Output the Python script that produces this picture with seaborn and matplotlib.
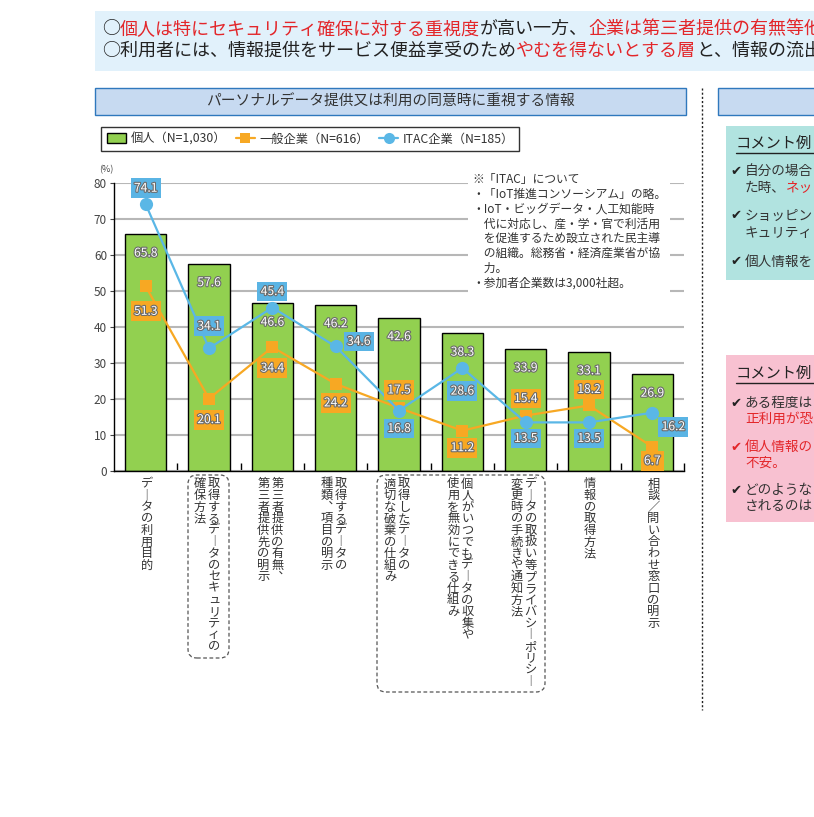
import numpy as np
import pandas as pd
import matplotlib
matplotlib.use("Agg")
import matplotlib.pyplot as plt
import matplotlib.transforms as mtransforms
import matplotlib.patheffects as pe
from matplotlib.patches import Rectangle, FancyBboxPatch
from matplotlib.lines import Line2D
import seaborn as sns

# ---------------- data ----------------
categories = [
    "データの利用目的",
    "取得するデータのセキュリティの\n確保方法",
    "第三者提供の有無、\n第三者提供先の明示",
    "取得するデータの\n種類、項目の明示",
    "取得したデータの\n適切な破棄の仕組み",
    "個人がいつでもデータの収集や\n使用を無効にできる仕組み",
    "データの取扱い等プライバシーポリシー\n変更時の手続きや通知方法",
    "情報の取得方法",
    "相談／問い合わせ窓口の明示",
]
individual = [65.8, 57.6, 46.6, 46.2, 42.6, 38.3, 33.9, 33.1, 26.9]
general = [51.3, 20.1, 34.4, 24.2, 17.5, 11.2, 15.4, 18.2, 6.7]
itac = [74.1, 34.1, 45.4, 34.6, 16.8, 28.6, 13.5, 13.5, 16.2]
yticks = [0, 10, 20, 30, 40, 50, 60, 70, 80]
legend_labels = ["個人（N=1,030）", "一般企業（N=616）", "ITAC企業（N=185）"]
chart_title = "パーソナルデータ提供又は利用の同意時に重視する情報"
note_lines = [
    "※「ITAC」について",
    "・「IoT推進コンソーシアム」の略。",
    "・IoT・ビッグデータ・人工知能時",
    "　代に対応し、産・学・官で利活用",
    "　を促進するため設立された民主導",
    "　の組織。総務省・経済産業省が協",
    "　力。",
    "・参加者企業数は3,000社超。",
]
banner_line1 = [("○", "k"), ("個人は特にセキュリティ確保に対する重視度", "r"),
                ("が高い一方、", "k"), ("企業は第三者提供の有無等他", "r")]
banner_line2 = [("○利用者には、情報提供をサービス便益享受のため", "k"),
                ("やむを得ないとする層", "r"), ("と、情報の流出", "k")]

# ---------------- style ----------------
sns.set_theme(style="white")
JP = ["Noto Sans CJK JP", "DejaVu Sans"]
NUM = ["Liberation Sans Narrow", "Noto Sans CJK JP", "DejaVu Sans"]
plt.rcParams["font.family"] = JP

GREEN = "#92d050"
ORANGE = "#f7a823"
BLUE = "#5ab7e6"
RED = "#e3262a"
DARK = "#333333"

W, H = 814, 817
fig = plt.figure(figsize=(W / 100, H / 100), dpi=100)
fig.patch.set_facecolor("white")


def fx(px):
    return px / W


def fy(py):
    return 1 - py / H


def frect(x0, y0, x1, y1, **kw):
    r = Rectangle((fx(x0), fy(y1)), fx(x1) - fx(x0), fy(y0) - fy(y1),
                  transform=fig.transFigure, **kw)
    fig.add_artist(r)
    return r


renderer = fig.canvas.get_renderer()


def rich(x_px, y_px, segs, size, colors, **kw):
    x = fx(x_px)
    for s, c in segs:
        t = fig.text(x, fy(y_px), s, color=colors[c], fontsize=size,
                     va="center", ha="left", **kw)
        bb = t.get_window_extent(renderer=renderer)
        x += bb.width / fig.bbox.width


# ---------------- banner ----------------
frect(95, 11, 830, 71, facecolor="#e1f1fb", edgecolor="none")
cols = {"k": "#222222", "r": RED}
rich(102, 29, banner_line1, 13.0, cols)
rich(102, 51, banner_line2, 13.0, cols)

# ---------------- title boxes ----------------
frect(95, 88, 686, 115, facecolor="#c7daf1", edgecolor="#2f78bd", linewidth=1.0)
fig.text(fx(390), fy(101.5), chart_title, fontsize=10.6, color=DARK,
         ha="center", va="center")
frect(718, 88, 830, 115, facecolor="#c7daf1", edgecolor="#2f78bd", linewidth=1.0)

# dotted separator
fig.add_artist(Line2D([fx(702), fx(702)], [fy(88), fy(710)], transform=fig.transFigure,
                      color="#222222", linewidth=1.0, linestyle=(0, (1.5, 1.5))))

# ---------------- axes ----------------
ax = fig.add_axes([fx(114), fy(471), (684 - 114) / W, (471 - 183) / H])
df = pd.DataFrame({"cat": categories, "ind": individual})
sns.barplot(data=df, x="cat", y="ind", color=GREEN, saturation=1, width=0.65,
            edgecolor="black", linewidth=1.0, ax=ax, zorder=2)
pos = np.arange(len(categories))
sns.lineplot(x=pos, y=general, color=ORANGE, marker="s", markersize=8.5,
             markeredgewidth=0, linewidth=1.6, ax=ax, zorder=4)
sns.lineplot(x=pos, y=itac, color=BLUE, marker="o", markersize=9.5,
             markeredgewidth=0, linewidth=1.6, ax=ax, zorder=5)

ax.set_xlim(-0.5, len(categories) - 0.5)
ax.set_ylim(0, 80)
ax.set_yticks(yticks)
ax.set_yticklabels([str(v) for v in yticks], family=NUM)
ax.yaxis.grid(True, color="#b7b7b7", linewidth=1.5)
ax.xaxis.grid(False)
ax.set_axisbelow(True)
for s in ["top", "right"]:
    ax.spines[s].set_visible(False)
for s in ["left", "bottom"]:
    ax.spines[s].set_color("black")
    ax.spines[s].set_linewidth(1.0)
ax.set_xlabel("")
ax.set_ylabel("")
ax.set_xticks(pos)
ax.set_xticklabels([])
ax.tick_params(axis="x", which="major", length=0)
ax.set_xticks(np.arange(0.5, len(categories), 1), minor=True)
ax.tick_params(axis="x", which="minor", direction="in", length=6, width=1.0,
               color="black", bottom=True)
ax.tick_params(axis="y", length=3, width=0.8, color="#444444", labelsize=8.5,
               labelcolor="#444444", pad=2, left=True)
ax.set_facecolor("white")
fig.text(fx(99), fy(170), "(%)", fontsize=6.5, color="#444444", ha="left", va="center",
         family=NUM)

# note box (white background over gridlines)
wr = Rectangle((fx(468), fy(297)), fx(670) - fx(468), fy(170) - fy(297),
               transform=fig.transFigure, facecolor="white", edgecolor="none",
               zorder=1.5, clip_on=False)
ax.add_artist(wr)
for i, line in enumerate(note_lines):
    fig.text(fx(472), fy(180 + i * 14.7), line, fontsize=8.5, color=DARK,
             ha="left", va="center")

# value labels
stroke = [pe.withStroke(linewidth=1.6, foreground="#6b6b6b")]
for i, v in enumerate(individual):
    ax.annotate(f"{v:.1f}", (i, v), xytext=(0, -19), textcoords="offset pixels",
                ha="center", va="center", color="white", fontsize=8.7, family=NUM,
                path_effects=stroke, zorder=6)

gen_off = [(0, -25), (0, -21), (0, -21), (0, -19), (0, 18), (0, -17), (0, 17), (0, 16), (0, -14)]
itac_off = [(0, 16), (0, 22), (0, 16), (23, 5), (0, -18), (0, -23), (0, -16), (0, -16), (21, -14)]


def box_label(x, y, off, color):
    ax.annotate(f"{y:.1f}", (x, y), xytext=off, textcoords="offset pixels",
                ha="center", va="center", color="white", fontsize=8.7, family=NUM,
                path_effects=stroke, zorder=7,
                bbox=dict(boxstyle="square,pad=0.28", facecolor=color, edgecolor="none"))


for i, v in enumerate(general):
    box_label(i, v, gen_off[i], ORANGE)
for i, v in enumerate(itac):
    box_label(i, v, itac_off[i], "#5ab4e4")

# vertical category labels
vert_map = {"ー": "︱", "、": "︑"}
blend = mtransforms.blended_transform_factory(ax.transData, ax.transAxes)
pitch = 11.6
for i, cat in enumerate(categories):
    colsx = cat.split("\n")
    n = len(colsx)
    for k, col in enumerate(colsx):
        if n == 1:
            dx = 1
        else:
            dx = 5 - 14 * k
        for j, ch in enumerate(col):
            ax.annotate(vert_map.get(ch, ch), (i, 0), xycoords=blend,
                        xytext=(dx, -13 - j * pitch), textcoords="offset pixels",
                        ha="center", va="center", fontsize=8.8, color=DARK,
                        annotation_clip=False)

# dashed rounded boxes around labels
for (x0, y0, x1, y1) in [(188, 475, 229, 658), (377, 475, 545, 692)]:
    fb = FancyBboxPatch((fx(x0), fy(y1)), fx(x1) - fx(x0), fy(y0) - fy(y1),
                        boxstyle="round,pad=0,rounding_size=0.011",
                        transform=fig.transFigure, facecolor="none",
                        edgecolor="#555555", linewidth=0.9, linestyle=(0, (3, 2)))
    fig.add_artist(fb)

# legend
handles = [
    Rectangle((0, 0), 1, 1, facecolor=GREEN, edgecolor="black", linewidth=1.0),
    Line2D([], [], color=ORANGE, marker="s", markersize=7, markeredgewidth=0, linewidth=1.6),
    Line2D([], [], color=BLUE, marker="o", markersize=8, markeredgewidth=0, linewidth=1.6),
]
leg = fig.legend(handles, legend_labels, loc="upper left",
                 bbox_to_anchor=(fx(101), fy(127)), ncol=3, frameon=True,
                 fancybox=False, edgecolor="black", fontsize=8.8,
                 handlelength=1.6, handleheight=0.9, columnspacing=0.8,
                 handletextpad=0.35, borderpad=0.45, borderaxespad=0)
leg.get_frame().set_linewidth(1.0)
for t in leg.get_texts():
    t.set_color(DARK)

# ---------------- right panel ----------------
frect(726, 126, 830, 280, facecolor="#b1e3e0", edgecolor="none")
frect(726, 355, 830, 522, facecolor="#f8c1d1", edgecolor="none")

CHK = ["DejaVu Sans"]
for ytitle in (143, 373):
    fig.text(fx(736), fy(ytitle), "コメント例", fontsize=11, color="#222222",
             ha="left", va="center")
    fig.add_artist(Line2D([fx(736), fx(830)], [fy(ytitle + 10), fy(ytitle + 10)],
                          transform=fig.transFigure, color="#222222", linewidth=1.0))

comments = [
    (172, "✔", "#222222", [("自分の場合", "k")]),
    (188, "", None, [("た時、", "k"), ("ネッ", "r")]),
    (216, "✔", "#222222", [("ショッピン", "k")]),
    (233, "", None, [("キュリティ", "k")]),
    (262, "✔", "#222222", [("個人情報を", "k")]),
    (403, "✔", "#222222", [("ある程度は", "k")]),
    (419, "", None, [("正利用が恐", "r")]),
    (447, "✔", RED, [("個人情報の", "r")]),
    (463, "", None, [("不安。", "r")]),
    (490, "✔", "#222222", [("どのような", "k")]),
    (506, "", None, [("されるのは", "k")]),
]
ccols = {"k": "#333333", "r": RED}
for y, chk, cc, segs in comments:
    if chk:
        fig.text(fx(730), fy(y), chk, fontsize=9.5, color=cc, family=CHK,
                 ha="left", va="center")
    rich(745, y, segs, 9.8, ccols)

fig.savefig("out.png", dpi=100, facecolor="white")
